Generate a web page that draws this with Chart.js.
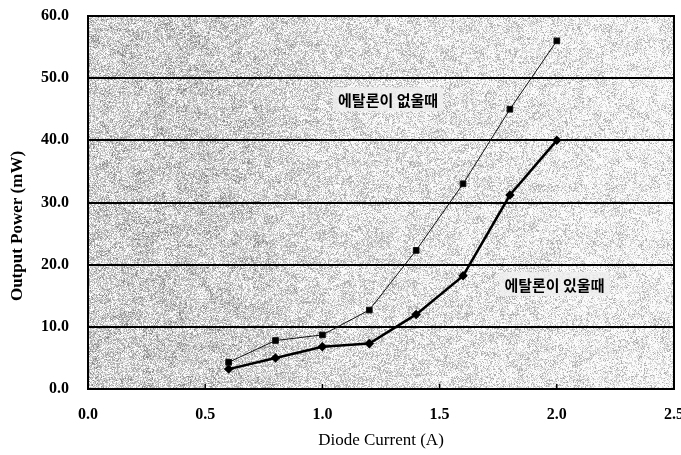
<!DOCTYPE html>
<html>
<head>
<meta charset="utf-8">
<script src="https://cdn.jsdelivr.net/npm/chart.js@4"></script>
<style>
  html, body { margin: 0; padding: 0; background: #fff; }
  #wrap { width: 681px; height: 455px; }
</style>
</head>
<body>
<div id="wrap"><canvas id="myChart" width="681" height="455"></canvas></div>
<script>
// data
const current = [0.6, 0.8, 1.0, 1.2, 1.4, 1.6, 1.8, 2.0];
const withoutEtalon = [4.3, 7.8, 8.7, 12.7, 22.3, 33.0, 45.0, 56.0];
const withEtalon = [3.2, 5.0, 6.8, 7.3, 12.0, 18.2, 31.2, 40.0];
const labelWithout = '에탈론이 없울때';
const labelWith = '에탈론이 있울때';
const yTitle = 'Output Power (mW)';

function pts(ys) {
    return current.map((x, i) => ({ x: x, y: ys[i] }));
}

function hash(a, b) {
    let n = Math.sin(a * 12.9898 + b * 78.233) * 43758.5453;
    return n - Math.floor(n);
}

// grainy gray background, like the scanned original
let texture = null;
function makeTexture(w, h) {
    const c = document.createElement('canvas');
    c.width = w; c.height = h;
    const g = c.getContext('2d');
    const img = g.createImageData(w, h);
    for (let y = 0; y < h; y++) {
        for (let x = 0; x < w; x++) {
            const n = hash(x, y);
            const m = hash(Math.floor(x / 11), Math.floor(y / 8) + 500);
            const t = x / w;
            let base = 196 + 34 * t + (m - 0.5) * 24;
            if (t < 0.4) base -= 10 * Math.sin(t * 7.8);
            let v = base + (n - 0.5) * 120;
            v = Math.round(v / 40) * 40 + 15;
            v = Math.max(105, Math.min(250, v));
            const k = (y * w + x) * 4;
            img.data[k] = v; img.data[k + 1] = v; img.data[k + 2] = v; img.data[k + 3] = 255;
        }
    }
    g.putImageData(img, 0, 0);
    return c;
}

const plotDecor = {
    id: 'plotDecor',
    beforeDraw(chart) {
        const a = chart.chartArea;
        const ctx = chart.ctx;
        if (!texture) texture = makeTexture(Math.round(a.right - a.left), Math.round(a.bottom - a.top));
        ctx.drawImage(texture, a.left, a.top, a.right - a.left, a.bottom - a.top);
    },
    afterDatasetsDraw(chart) {
        const a = chart.chartArea;
        const ctx = chart.ctx;
        const xs = chart.scales.x, ys = chart.scales.y;
        ctx.save();
        // x tick marks inside the bottom edge
        ctx.strokeStyle = '#000';
        ctx.lineWidth = 1.5;
        [0.5, 1.0, 1.5, 2.0].forEach(v => {
            const px = xs.getPixelForValue(v);
            ctx.beginPath();
            ctx.moveTo(px, a.bottom);
            ctx.lineTo(px, a.bottom - 5);
            ctx.stroke();
        });
        // frame
        ctx.lineWidth = 2;
        ctx.strokeRect(a.left, a.top, a.right - a.left, a.bottom - a.top);
        // series labels
        ctx.font = 'bold 15px "Noto Sans CJK KR"';
        ctx.textAlign = 'center';
        ctx.textBaseline = 'middle';
        [[labelWithout, 1.28, 46.6], [labelWith, 1.99, 16.9]].forEach(l => {
            const px = xs.getPixelForValue(l[1]);
            const py = ys.getPixelForValue(l[2]);
            const w = ctx.measureText(l[0]).width;
            ctx.fillStyle = 'rgba(238,238,238,0.85)';
            ctx.fillRect(px - w / 2 - 5, py - 12, w + 10, 24);
            ctx.fillStyle = '#000';
            ctx.fillText(l[0], px, py + 1);
        });
        // y axis title, sits a little below the middle in the original
        ctx.translate(18, 226);
        ctx.rotate(-Math.PI / 2);
        ctx.font = 'bold 17px ' + serif;
        ctx.fillText(yTitle, 0, 0);
        ctx.restore();
    }
};

const serif = '"Liberation Serif", "Times New Roman", serif';

const config = {
    type: 'line',
    data: {
        datasets: [{
            label: labelWithout,
            data: pts(withoutEtalon),
            borderColor: '#111',
            backgroundColor: '#000',
            borderWidth: 1,
            pointStyle: 'rect',
            pointRadius: 4,
            pointHoverRadius: 4
        }, {
            label: labelWith,
            data: pts(withEtalon),
            borderColor: '#000',
            backgroundColor: '#000',
            borderWidth: 2.5,
            pointStyle: 'rectRot',
            pointRadius: 3,
            pointHoverRadius: 3
        }]
    },
    options: {
        responsive: false,
        animation: false,
        layout: { padding: { top: 16, right: 7, left: 0, bottom: 0 } },
        plugins: {
            legend: { display: false },
            tooltip: { enabled: false }
        },
        scales: {
            x: {
                type: 'linear',
                min: 0,
                max: 2.5,
                grid: { display: false },
                border: { display: false },
                ticks: {
                    stepSize: 0.5,
                    color: '#000',
                    padding: 8,
                    font: { family: serif, size: 16, weight: 'bold' },
                    callback: v => v.toFixed(1)
                },
                title: {
                    display: true,
                    text: 'Diode Current (A)',
                    color: '#000',
                    padding: { top: 6 },
                    font: { family: serif, size: 17 }
                },
                afterFit: s => { s.height = 66; s.paddingRight = 0; s.paddingLeft = 0; }
            },
            y: {
                min: 0,
                max: 60,
                grid: { color: '#000', lineWidth: 2, drawTicks: false },
                border: { display: false },
                ticks: {
                    stepSize: 10,
                    color: '#000',
                    padding: 19,
                    font: { family: serif, size: 16, weight: 'bold' },
                    callback: v => v.toFixed(1)
                },
                title: { display: false },
                afterFit: s => { s.width = 88; s.paddingTop = 0; s.paddingBottom = 0; }
            }
        }
    },
    plugins: [plotDecor]
};

const myChart = new Chart(document.getElementById('myChart'), config);
</script>
</body>
</html>
